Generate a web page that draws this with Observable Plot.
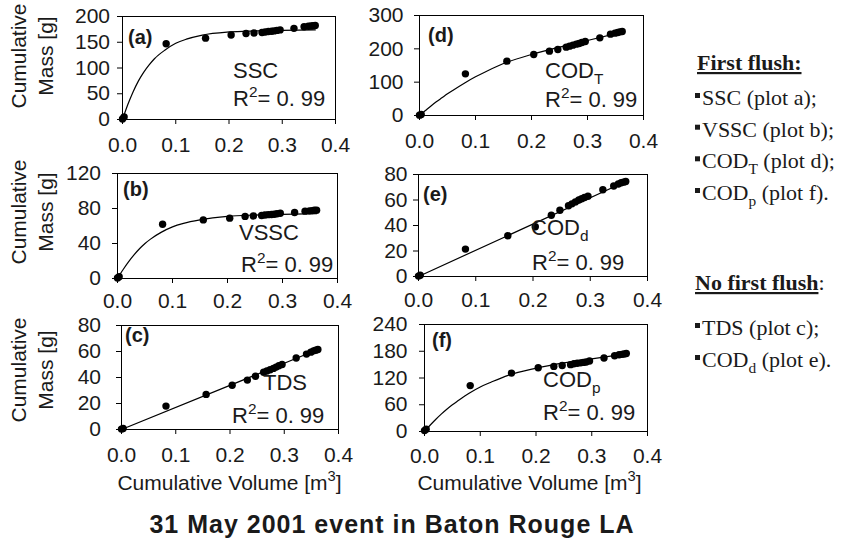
<!DOCTYPE html>
<html><head><meta charset="utf-8">
<script src="https://cdn.jsdelivr.net/npm/d3@7"></script>
<script src="https://cdn.jsdelivr.net/npm/@observablehq/plot@0.6"></script>
<style>
html,body{margin:0;padding:0;background:#fff;}
#root{position:relative;width:841px;height:541px;overflow:hidden;}
#root > svg{position:absolute;overflow:visible;}
</style></head><body><div id="root"></div>
<script>
// ---------- data ----------
const volume   = [0, 0.003, 0.082, 0.156, 0.204, 0.232, 0.247, 0.262, 0.268, 0.274, 0.280, 0.285, 0.290, 0.296, 0.322, 0.341, 0.349, 0.354, 0.358, 0.362];
const massSSC  = [1, 5, 147, 158, 164, 167, 168, 169, 170, 171, 171.5, 172, 173, 174, 177, 180, 181, 181.5, 182, 182.5];
const massVSSC = [0.5, 2, 62, 67, 69, 71, 71.5, 72, 72.5, 73, 73.2, 73.5, 74, 74.5, 75.5, 77, 77.3, 77.6, 78, 78];
const massTDS  = [0.3, 0.8, 18, 27, 34, 38, 41, 44, 45, 46, 47, 48, 49, 50, 55, 58, 59.5, 60.5, 61, 61.5];
const massCODT = [1, 3, 125, 163, 183, 193, 198, 205, 208, 211, 214, 216, 219, 222, 233, 244, 247, 249, 251, 252];
const massCODd = [0.3, 1, 21.5, 32, 39, 48, 52, 55.5, 57, 58.5, 60, 61, 62, 63, 68, 71, 72.5, 73.5, 74, 74.5];
const massCODp = [2, 5, 103, 131, 143, 146, 148, 150, 152, 153, 154, 155, 156, 158, 165, 170, 172, 173, 174, 175];

const fitVolume = [0, 0.01, 0.02, 0.03, 0.04, 0.05, 0.06, 0.08, 0.10, 0.12, 0.15, 0.20, 0.25, 0.30, 0.362];
const fitSSC    = [0, 29, 54, 75, 92, 106, 118, 135, 148, 156, 164, 170, 172, 173, 174];
const fitVSSC   = [0, 10, 19, 27, 34, 40, 45, 53, 59, 63, 67, 71, 72.5, 73.3, 74];
const fitCODT   = [0, 14, 28, 41, 53, 65, 76, 97, 116, 133, 156, 183, 205, 225, 250];
const fitCODp   = [0, 14, 27, 39, 50, 60, 69, 86, 100, 111, 126, 142, 154, 163, 174];
const lineVolume = [0, 0.362];
const fitTDS    = [0, 61.5];
const fitCODd   = [0, 74.5];

const xTicks = [0, 0.1, 0.2, 0.3, 0.4];
const yTicksA = [0, 50, 100, 150, 200];
const yTicksB = [0, 40, 80, 120];
const yTicksC = [0, 20, 40, 60, 80];
const yTicksD = [0, 100, 200, 300];
const yTicksE = [0, 20, 40, 60, 80];
const yTicksF = [0, 60, 120, 180, 240];

const panelTags = ["(a)", "(b)", "(c)", "(d)", "(e)", "(f)"];
const pollutantNames = [["SSC", ""], ["VSSC", ""], ["TDS", ""], ["COD", "T"], ["COD", "d"], ["COD", "p"]];
const r2Text = ["0. 99", "0. 99", "0. 99", "0. 99", "0. 99", "0. 99"];
const yTitle = ["Cumulative", "Mass [g]"];
const xTitle = ["Cumulative Volume [m", "3", "]"];
const chartTitle = "31 May 2001 event in Baton Rouge LA";
const legendHead1 = "First flush:";
const legendItems1 = [["SSC", "", " (plot a);"], ["VSSC", "", " (plot b);"], ["COD", "T", " (plot d);"], ["COD", "p", " (plot f)."]];
const legendHead2 = ["No first flush", ":"];
const legendItems2 = [["TDS", "", " (plot c);"], ["COD", "d", " (plot e)."]];

// ---------- panels ----------
const panels = [
  {mass: massSSC,  fx: fitVolume,  fy: fitSSC,  yMax: 200, yTicks: yTicksA},
  {mass: massVSSC, fx: fitVolume,  fy: fitVSSC, yMax: 120, yTicks: yTicksB},
  {mass: massTDS,  fx: lineVolume, fy: fitTDS,  yMax: 80,  yTicks: yTicksC},
  {mass: massCODT, fx: fitVolume,  fy: fitCODT, yMax: 300, yTicks: yTicksD},
  {mass: massCODd, fx: lineVolume, fy: fitCODd, yMax: 80,  yTicks: yTicksE},
  {mass: massCODp, fx: fitVolume,  fy: fitCODp, yMax: 240, yTicks: yTicksF}
];
// layout: frame edges in page px, tick paddings, annotation offsets from frame top-left
const layout = [
  {L:122, T:16,  R:335, B:119, yPad:7.5,  xPad:13, tag:[6,28], name:[111,62], r2:[111,90]},
  {L:117, T:173, R:337, B:278, yPad:11.5, xPad:10, tag:[6,23], name:[122,67], r2:[124,99]},
  {L:121, T:325, R:338, B:429, yPad:15.5, xPad:13, tag:[4,17], name:[142,65], r2:[111,98]},
  {L:419, T:15,  R:643, B:115, yPad:11,   xPad:13, tag:[9,27], name:[126,63], r2:[126,92]},
  {L:418, T:174, R:647, B:276, yPad:6,    xPad:11, tag:[5,27], name:[113,61], r2:[114,96]},
  {L:424, T:324, R:647, B:431, yPad:12,   xPad:12, tag:[8,23], name:[119,63], r2:[119,96]}
];

const SANS = "'Liberation Sans', Arial, Helvetica, sans-serif";
const SERIF = "'Liberation Serif', 'Times New Roman', serif";
const INK = "#1a1a1a";
const root = document.getElementById("root");

function rich(sel, x, y, parts, opt) {
  const t = sel.append("text").attr("x", x).attr("y", y)
    .attr("font-family", opt.family || SANS).attr("font-size", opt.size)
    .attr("fill", INK).attr("text-anchor", opt.anchor || "start");
  if (opt.weight) t.attr("font-weight", opt.weight);
  let shift = 0;
  for (const p of parts) {
    if (!p.t) continue;
    const target = p.s === "sup" ? -opt.size * 0.42 : p.s === "sub" ? opt.size * 0.26 : 0;
    const ts = t.append("tspan").text(p.t).attr("dy", target - shift);
    if (p.s) ts.attr("font-size", opt.size * 0.7);
    if (p.u) ts.attr("text-decoration", "underline");
    if (p.w) ts.attr("font-weight", p.w);
    shift = target;
  }
  return t;
}

const mL = 70, mR = 14, mT = 8, mB = 46;
panels.forEach((p, i) => {
  const lay = layout[i];
  const W = lay.R - lay.L, H = lay.B - lay.T;
  const pts = volume.map((v, k) => ({x: v, y: p.mass[k]}));
  const fit = p.fx.map((v, k) => ({x: v, y: p.fy[k]}));
  const chart = Plot.plot({
    width: W + mL + mR, height: H + mT + mB,
    marginLeft: mL, marginRight: mR, marginTop: mT, marginBottom: mB,
    style: {fontFamily: SANS, fontSize: "21px", color: INK, background: "transparent", overflow: "visible"},
    x: {domain: [0, 0.4]},
    y: {domain: [0, p.yMax]},
    marks: [
      Plot.frame({stroke: "#000", strokeWidth: 1}),
      Plot.axisX({ticks: xTicks, tickSize: 5, tickPadding: lay.xPad, fontSize: 21, label: null, tickFormat: d => d.toFixed(1), stroke: "#000"}),
      Plot.axisY({ticks: p.yTicks, tickSize: 5, tickPadding: lay.yPad, fontSize: 21, label: null, stroke: "#000"}),
      Plot.line(fit, {x: "x", y: "y", curve: "monotone-x", stroke: "#000", strokeWidth: 1.2}),
      Plot.dot(pts, {x: "x", y: "y", r: 3.7, fill: "#000", stroke: "none"})
    ]
  });
  chart.style.left = (lay.L - mL) + "px";
  chart.style.top = (lay.T - mT) + "px";
  root.appendChild(chart);
  const s = d3.select(chart);
  const ox = mL, oy = mT;
  rich(s, ox + lay.tag[0], oy + lay.tag[1], [{t: panelTags[i]}], {size: 20, weight: "bold"});
  const nm = pollutantNames[i];
  rich(s, ox + lay.name[0], oy + lay.name[1], [{t: nm[0]}, {t: nm[1], s: "sub"}], {size: 22});
  rich(s, ox + lay.r2[0], oy + lay.r2[1], [{t: "R"}, {t: "2", s: "sup"}, {t: "= " + r2Text[i]}], {size: 22});
});

// ---------- overlay: axis titles, title, legend ----------
const ov = d3.select(root).append("svg")
  .attr("width", 841).attr("height", 541)
  .style("left", "0px").style("top", "0px").style("pointer-events", "none");

[56, 212, 370].forEach(cy => {
  ov.append("text").attr("transform", `translate(26,${cy}) rotate(-90)`)
    .attr("text-anchor", "middle").attr("font-family", SANS).attr("font-size", 21).attr("fill", INK)
    .text(yTitle[0]);
  ov.append("text").attr("transform", `translate(53,${cy}) rotate(-90)`)
    .attr("text-anchor", "middle").attr("font-family", SANS).attr("font-size", 21).attr("fill", INK)
    .text(yTitle[1]);
});

[229.5, 529.5].forEach(cx => {
  rich(ov, cx, 490, [{t: xTitle[0]}, {t: xTitle[1], s: "sup"}, {t: xTitle[2]}], {size: 21, anchor: "middle"});
});

ov.append("text").attr("x", 392).attr("y", 533).attr("text-anchor", "middle")
  .attr("font-family", SANS).attr("font-size", 25).attr("font-weight", "bold")
  .attr("letter-spacing", "1px").attr("fill", INK).text(chartTitle);

// legend
rich(ov, 697, 70, [{t: legendHead1, u: true}], {size: 22, weight: "bold", family: SERIF});
[105, 136.7, 168.3, 200].forEach((by, k) => {
  ov.append("rect").attr("x", 695).attr("y", by - 12).attr("width", 5).attr("height", 5).attr("fill", INK);
  const it = legendItems1[k];
  rich(ov, 702, by, [{t: it[0]}, {t: it[1], s: "sub"}, {t: it[2]}], {size: 22, family: SERIF});
});
rich(ov, 695, 290, [{t: legendHead2[0], u: true, w: "bold"}, {t: legendHead2[1]}], {size: 22, family: SERIF});
[335, 367].forEach((by, k) => {
  ov.append("rect").attr("x", 695).attr("y", by - 12).attr("width", 5).attr("height", 5).attr("fill", INK);
  const it = legendItems2[k];
  rich(ov, 702, by, [{t: it[0]}, {t: it[1], s: "sub"}, {t: it[2]}], {size: 22, family: SERIF});
});
</script></body></html>
